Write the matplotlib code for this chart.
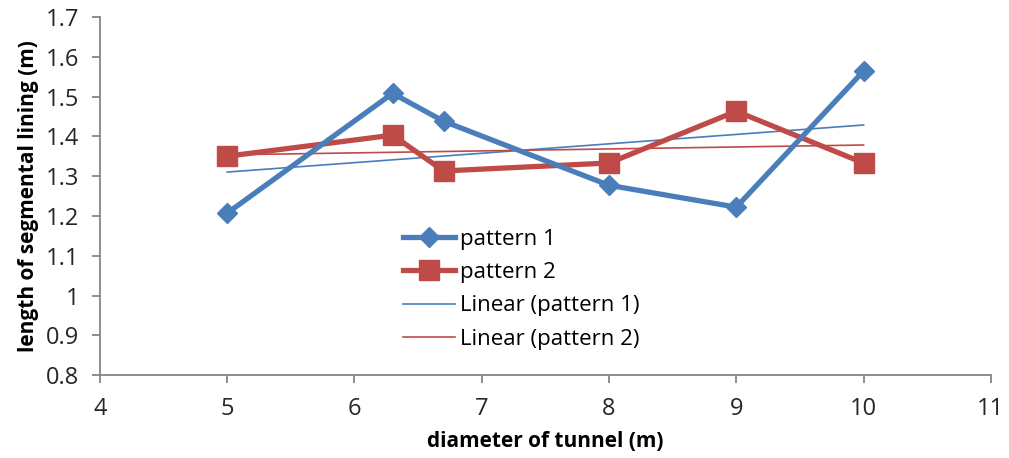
import numpy as np
import matplotlib.pyplot as plt

# tunnel diameters (m) and segment lengths (m) for both patterns
diameter = [5, 6.3, 6.7, 8, 9, 10]
pattern_1 = [1.207, 1.508, 1.438, 1.277, 1.222, 1.564]
pattern_2 = [1.350, 1.403, 1.313, 1.333, 1.463, 1.333]

blue = '#4A7EBB'
red = '#BE4B48'

plt.rcParams['font.family'] = ['Open Sans', 'DejaVu Sans']

fig = plt.figure(figsize=(10.09, 4.58), dpi=100)
ax = fig.add_axes([0.099, 0.181, 0.883, 0.782])

ax.plot(diameter, pattern_1, color=blue, lw=3.8, marker='D', ms=10,
        mec=blue, label='pattern 1', zorder=4)
ax.plot(diameter, pattern_2, color=red, lw=3.8, marker='s', ms=14,
        mec=red, label='pattern 2', zorder=3)

# least squares trend lines over the data range
x_fit = np.array([min(diameter), max(diameter)])
for ys, col, name in [(pattern_1, blue, 'Linear (pattern 1)'),
                      (pattern_2, red, 'Linear (pattern 2)')]:
    k, b = np.polyfit(diameter, ys, 1)
    ax.plot(x_fit, k * x_fit + b, color=col, lw=1.2, label=name, zorder=2)

ax.set_xlim(4, 11)
ax.set_ylim(0.8, 1.7)
ax.set_xticks(range(4, 12))
ax.set_yticks(np.arange(0.8, 1.71, 0.1))
ax.set_yticklabels(['0.8', '0.9', '1', '1.1', '1.2', '1.3', '1.4', '1.5', '1.6', '1.7'])

for side in ['top', 'right']:
    ax.spines[side].set_visible(False)
for side in ['left', 'bottom']:
    ax.spines[side].set_color('#868686')
    ax.spines[side].set_linewidth(1.3)
ax.tick_params(direction='out', length=6, width=1.3, color='#868686',
               labelsize=17, labelcolor='#262626')
ax.tick_params(axis='x', pad=10)
ax.tick_params(axis='y', pad=9)

ax.set_xlabel('diameter of tunnel (m)', fontsize=15, fontweight='bold', labelpad=7)
ax.set_ylabel('length of segmental lining (m)', fontsize=15, fontweight='bold', labelpad=5)

ax.legend(loc='upper left', bbox_to_anchor=(0.399, 0.5), bbox_transform=fig.transFigure,
          frameon=False, fontsize=16, handlelength=2.35, handletextpad=0.23,
          labelspacing=0.55, borderpad=0, borderaxespad=0)

fig.savefig('out.png', dpi=100)
